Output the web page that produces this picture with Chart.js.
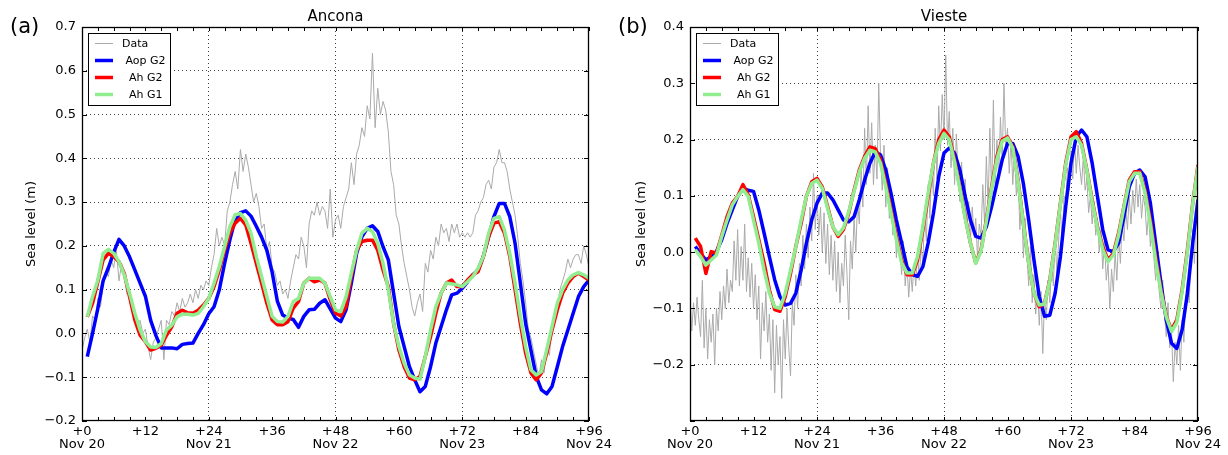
<!DOCTYPE html>
<html>
<head>
<meta charset="utf-8">
<script src="https://cdn.jsdelivr.net/npm/chart.js@4.4.1/dist/chart.umd.min.js"></script>
<style>
  html, body { margin: 0; padding: 0; background: #fff; }
  #wrap { position: relative; width: 1228px; height: 455px; overflow: hidden; }
  .panel { position: absolute; top: 0; height: 455px; }
  #pA { left: 0; width: 620px; }
  #pB { left: 614px; width: 614px; }
</style>
</head>
<body>
<div id="wrap">
  <div class="panel" id="pB"><canvas id="chartB" width="614" height="455"></canvas></div>
  <div class="panel" id="pA"><canvas id="chartA" width="620" height="455"></canvas></div>
</div>
<script>
// hours after Nov 20 00:00
const dayLabels = ['Nov 20', 'Nov 21', 'Nov 22', 'Nov 23', 'Nov 24'];
const seriesNames = ['Data', ' Aop G2', '  Ah G2', '  Ah G1'];
const seriesColors = ['#aaaaaa', '#0000ff', '#ff0000', '#90ee90'];

// model output, hourly from +1 to +96
const modelHours = Array.from({ length: 96 }, (_, i) => i + 1);

const anconaAopG2 = [-0.053, 0.0, 0.057, 0.12, 0.15, 0.185, 0.215, 0.2, 0.175, 0.145, 0.115, 0.085,
  0.03, -0.005, -0.033, -0.033, -0.033, -0.035, -0.025, -0.023, -0.022, 0.0, 0.02, 0.045,
  0.061, 0.1, 0.16, 0.214, 0.26, 0.276, 0.28, 0.268, 0.245, 0.22, 0.19, 0.14,
  0.073, 0.042, 0.035, 0.032, 0.014, 0.039, 0.054, 0.055, 0.069, 0.077, 0.056, 0.035,
  0.027, 0.054, 0.115, 0.183, 0.221, 0.24, 0.246, 0.233, 0.198, 0.168, 0.092, 0.016,
  -0.03, -0.076, -0.106, -0.133, -0.121, -0.076, -0.022, 0.016, 0.054, 0.088, 0.092, 0.103,
  0.118, 0.134, 0.145, 0.176, 0.221, 0.267, 0.297, 0.297, 0.267, 0.206, 0.115, 0.023,
  -0.038, -0.098, -0.129, -0.138, -0.121, -0.076, -0.03, 0.008, 0.046, 0.084, 0.107, 0.122];
const anconaAhG2 = [0.038, 0.069, 0.118, 0.168, 0.183, 0.176, 0.164, 0.137, 0.084, 0.031, -0.004, -0.019,
  -0.038, -0.034, -0.027, -0.004, 0.015, 0.046, 0.053, 0.047, 0.046, 0.053, 0.065, 0.08,
  0.107, 0.145, 0.19, 0.229, 0.252, 0.263, 0.248, 0.206, 0.16, 0.115, 0.069, 0.031,
  0.02, 0.02, 0.027, 0.058, 0.073, 0.115, 0.126, 0.118, 0.122, 0.115, 0.077, 0.046,
  0.04, 0.061, 0.13, 0.19, 0.21, 0.213, 0.213, 0.19, 0.145, 0.107, 0.023, -0.038,
  -0.076, -0.102, -0.106, -0.098, -0.053, -0.007, 0.046, 0.092, 0.115, 0.122, 0.107, 0.107,
  0.122, 0.134, 0.141, 0.176, 0.221, 0.252, 0.255, 0.229, 0.176, 0.1, 0.023, -0.045,
  -0.09, -0.106, -0.09, -0.045, 0.008, 0.054, 0.092, 0.115, 0.13, 0.138, 0.13, 0.122];
const anconaAhG1 = [0.038, 0.084, 0.122, 0.183, 0.192, 0.183, 0.164, 0.134, 0.092, 0.046, 0.008, -0.019,
  -0.031, -0.032, -0.023, 0.008, 0.019, 0.038, 0.044, 0.044, 0.042, 0.046, 0.061, 0.08,
  0.115, 0.153, 0.198, 0.244, 0.271, 0.274, 0.259, 0.229, 0.176, 0.13, 0.084, 0.039,
  0.027, 0.026, 0.039, 0.073, 0.08, 0.115, 0.126, 0.126, 0.126, 0.115, 0.084, 0.054,
  0.05, 0.084, 0.138, 0.19, 0.229, 0.24, 0.233, 0.206, 0.16, 0.1, 0.023, -0.03,
  -0.068, -0.095, -0.102, -0.105, -0.053, 0.008, 0.061, 0.092, 0.115, 0.113, 0.111, 0.107,
  0.118, 0.13, 0.149, 0.176, 0.229, 0.263, 0.267, 0.236, 0.183, 0.115, 0.039, -0.03,
  -0.083, -0.095, -0.087, -0.037, 0.016, 0.069, 0.1, 0.122, 0.134, 0.139, 0.134, 0.126];

// tide gauge, every 30 min from +0 to +96
const anconaDataStep = 0.5;
const anconaData = [-0.04, -0.01, 0.01, -0.02, 0.04, 0.03, 0.08, 0.06, 0.11, 0.14, 0.13, 0.17,
  0.15, 0.19, 0.12, 0.16, 0.13, 0.09, 0.10, 0.06, 0.05, 0.02, 0.03, 0.00, 0.01, -0.03,
  -0.06, -0.02, -0.01, 0.01, 0.03, -0.06, 0.03, 0.02, 0.05, 0.04, 0.07, 0.05, 0.08, 0.06,
  0.07, 0.09, 0.07, 0.10, 0.08, 0.11, 0.10, 0.12, 0.11, 0.15, 0.18, 0.24, 0.20, 0.22,
  0.20, 0.28, 0.30, 0.34, 0.37, 0.33, 0.42, 0.37, 0.41, 0.38, 0.34, 0.30, 0.32, 0.29,
  0.24, 0.25, 0.19, 0.21, 0.15, 0.14, 0.11, 0.12, 0.09, 0.10, 0.08, 0.12, 0.15, 0.18,
  0.17, 0.22, 0.20, 0.15, 0.25, 0.28, 0.27, 0.30, 0.27, 0.29, 0.28, 0.24, 0.33, 0.22,
  0.26, 0.27, 0.24, 0.29, 0.31, 0.33, 0.39, 0.34, 0.41, 0.43, 0.47, 0.45, 0.52, 0.49,
  0.64, 0.47, 0.56, 0.50, 0.53, 0.51, 0.46, 0.37, 0.34, 0.27, 0.25, 0.20, 0.16, 0.13,
  0.10, 0.06, 0.04, 0.07, 0.09, 0.05, 0.16, 0.14, 0.19, 0.17, 0.22, 0.20, 0.25, 0.23,
  0.24, 0.21, 0.25, 0.23, 0.25, 0.22, 0.23, 0.22, 0.23, 0.22, 0.23, 0.27, 0.28, 0.30,
  0.31, 0.34, 0.35, 0.33, 0.38, 0.39, 0.42, 0.39, 0.39, 0.37, 0.33, 0.30, 0.27, 0.22,
  0.16, 0.12, 0.07, 0.01, -0.01, -0.04, -0.07, -0.10, -0.06, -0.09, -0.03, -0.05, 0.01, 0.04,
  0.06, 0.10, 0.12, 0.14, 0.17, 0.15, 0.17, 0.18, 0.18, 0.16, 0.20, 0.18, 0.15];

const viesteAopG2 = [0.01, -0.002, -0.014, -0.008, 0.001, 0.022, 0.051, 0.075, 0.099, 0.113, 0.11, 0.108,
  0.075, 0.034, -0.008, -0.049, -0.079, -0.094, -0.091, -0.073, -0.032, 0.016, 0.057, 0.087,
  0.105, 0.105, 0.093, 0.075, 0.057, 0.054, 0.063, 0.093, 0.128, 0.158, 0.178, 0.173,
  0.146, 0.104, 0.057, 0.016, -0.026, -0.04, -0.043, -0.026, 0.016, 0.069, 0.134, 0.176,
  0.185, 0.176, 0.146, 0.099, 0.057, 0.028, 0.025, 0.045, 0.081, 0.122, 0.164, 0.193,
  0.193, 0.17, 0.122, 0.057, -0.014, -0.079, -0.114, -0.112, -0.073, -0.008, 0.081, 0.158,
  0.205, 0.217, 0.205, 0.158, 0.099, 0.04, 0.004, 0.001, 0.016, 0.063, 0.116, 0.14,
  0.146, 0.134, 0.087, 0.016, -0.055, -0.12, -0.162, -0.171, -0.138, -0.073, 0.016, 0.093];
const viesteAhG2 = [0.025, 0.01, -0.038, 0.001, -0.002, 0.03, 0.063, 0.087, 0.099, 0.12, 0.102, 0.063,
  0.022, -0.019, -0.067, -0.102, -0.105, -0.079, -0.038, 0.01, 0.051, 0.099, 0.125, 0.131,
  0.116, 0.081, 0.045, 0.028, 0.04, 0.069, 0.11, 0.146, 0.17, 0.187, 0.184, 0.164,
  0.122, 0.075, 0.028, -0.014, -0.04, -0.04, -0.014, 0.04, 0.099, 0.158, 0.2, 0.217,
  0.205, 0.164, 0.116, 0.063, 0.016, -0.019, 0.004, 0.057, 0.116, 0.17, 0.2, 0.205,
  0.187, 0.128, 0.051, -0.019, -0.073, -0.097, -0.091, -0.049, 0.016, 0.087, 0.158, 0.205,
  0.214, 0.193, 0.146, 0.093, 0.045, 0.01, -0.014, -0.002, 0.034, 0.081, 0.128, 0.143,
  0.143, 0.11, 0.057, -0.008, -0.067, -0.114, -0.138, -0.12, -0.067, 0.004, 0.087, 0.155];
const viesteAhG1 = [0.004, -0.008, -0.023, -0.014, -0.005, 0.028, 0.057, 0.084, 0.099, 0.111, 0.099, 0.057,
  0.016, -0.032, -0.073, -0.097, -0.1, -0.073, -0.032, 0.01, 0.057, 0.099, 0.122, 0.128,
  0.113, 0.078, 0.045, 0.031, 0.043, 0.072, 0.108, 0.143, 0.167, 0.181, 0.178, 0.158,
  0.116, 0.069, 0.022, -0.019, -0.037, -0.037, -0.008, 0.045, 0.105, 0.158, 0.193, 0.211,
  0.2, 0.16, 0.113, 0.06, 0.016, -0.02, 0.002, 0.055, 0.113, 0.165, 0.197, 0.203,
  0.185, 0.125, 0.05, -0.02, -0.073, -0.094, -0.092, -0.05, 0.014, 0.085, 0.155, 0.2,
  0.205, 0.19, 0.145, 0.09, 0.043, 0.005, -0.017, -0.005, 0.03, 0.08, 0.125, 0.14,
  0.14, 0.105, 0.05, -0.015, -0.07, -0.115, -0.141, -0.125, -0.07, 0.0, 0.085, 0.152];

// tide gauge, every 20 min from +0 to +96
const viesteDataStep = 1 / 3;
const viesteData = [-0.08, -0.14, -0.09, -0.13, -0.08, -0.12, -0.15, -0.05, -0.17, -0.10, -0.19, -0.12,
  -0.16, -0.11, -0.20, -0.10, -0.14, -0.07, -0.12, -0.06, -0.10, -0.03, -0.09, -0.05,
  -0.07, 0.02, -0.05, 0.04, -0.06, 0.01, -0.05, 0.05, -0.07, -0.01, -0.08, -0.02,
  -0.10, -0.04, -0.12, -0.06, -0.19, -0.09, -0.14, -0.07, -0.16, -0.11, -0.21, -0.12,
  -0.25, -0.13, -0.20, -0.15, -0.26, -0.12, -0.19, -0.10, -0.17, -0.22, -0.09, -0.13,
  -0.04, -0.10, -0.02, -0.06, 0.03, -0.03, 0.05, -0.01, 0.08, 0.02, 0.14, 0.04,
  0.10, 0.03, 0.08, 0.00, 0.07, -0.02, 0.05, -0.04, 0.03, -0.05, 0.02, -0.07,
  0.00, -0.09, -0.02, -0.06, 0.03, -0.04, -0.12, 0.02, -0.03, 0.06, 0.00, 0.09,
  0.05, 0.15, 0.08, 0.22, 0.12, 0.26, 0.14, 0.23, 0.12, 0.19, 0.13, 0.30,
  0.17, 0.11, 0.19, 0.08, 0.15, 0.06, 0.11, 0.03, 0.07, -0.01, 0.05, 0.00,
  -0.04, 0.02, -0.06, -0.02, -0.08, -0.03, -0.07, -0.02, -0.06, 0.00, -0.05, 0.01,
  -0.02, 0.07, 0.02, 0.12, 0.06, 0.15, 0.10, 0.22, 0.13, 0.26, 0.18, 0.28,
  0.20, 0.35, 0.19, 0.25, 0.15, 0.22, 0.12, 0.21, 0.14, 0.09, 0.16, 0.07,
  0.13, 0.04, 0.09, 0.02, 0.08, 0.03, 0.06, -0.01, 0.05, 0.03, 0.12, 0.05,
  0.17, 0.08, 0.22, 0.10, 0.27, 0.12, 0.20, 0.13, 0.24, 0.16, 0.30, 0.18,
  0.22, 0.14, 0.20, 0.12, 0.18, 0.10, 0.14, 0.04, 0.09, -0.01, 0.06, 0.00,
  -0.06, 0.01, -0.09, -0.04, -0.11, -0.06, -0.13, -0.07, -0.18, -0.08, -0.12, -0.05,
  -0.09, -0.02, -0.06, 0.03, -0.04, 0.02, 0.08, 0.01, 0.10, 0.09, 0.15, 0.11,
  0.18, 0.13, 0.20, 0.14, 0.19, 0.15, 0.12, 0.17, 0.11, 0.13, 0.07, 0.10,
  0.05, 0.09, 0.03, 0.06, 0.00, 0.04, -0.03, 0.02, -0.05, -0.02, -0.10, -0.03,
  -0.07, 0.00, -0.05, 0.03, -0.02, 0.05, 0.02, 0.08, 0.04, 0.10, 0.05, 0.11,
  0.07, 0.13, 0.08, 0.12, 0.06, 0.10, 0.08, 0.03, 0.07, 0.01, 0.05, -0.01,
  -0.05, 0.00, -0.07, -0.10, -0.05, -0.11, -0.15, -0.09, -0.17, -0.14, -0.23, -0.16,
  -0.20, -0.13, -0.21, -0.12, -0.16, -0.08, -0.05, -0.09, -0.01, 0.04, -0.02, 0.08,
  0.12];

const FONT = '"DejaVu Sans", sans-serif';

function fmtTick(v) {
  if (Math.abs(v) < 1e-9) v = 0;
  return v.toFixed(1).replace('-', '\u2212');
}

function toPoints(xs, ys) {
  return ys.map((y, i) => ({ x: xs[i], y: y }));
}

function dataPoints(step, ys) {
  return ys.map((y, i) => ({ x: i * step, y: y }));
}

// frame and inward ticks, matplotlib style
const framePlugin = {
  id: 'frame',
  afterDatasetsDraw(chart) {
    const { ctx, chartArea: a, scales: { x, y } } = chart;
    ctx.save();
    ctx.strokeStyle = '#000';
    ctx.lineWidth = 1;
    ctx.beginPath();
    for (let h = 0; h <= 96; h += 3) {
      const px = Math.round(x.getPixelForValue(h)) + 0.5;
      ctx.moveTo(px, a.top); ctx.lineTo(px, a.top + 4);
      ctx.moveTo(px, a.bottom); ctx.lineTo(px, a.bottom - 4);
    }
    y.ticks.forEach(t => {
      const py = Math.round(y.getPixelForValue(t.value)) + 0.5;
      ctx.moveTo(a.left, py); ctx.lineTo(a.left + 5, py);
      ctx.moveTo(a.right, py); ctx.lineTo(a.right - 5, py);
    });
    ctx.stroke();
    ctx.lineWidth = 1.3;
    ctx.strokeRect(Math.round(a.left) + 0.5, Math.round(a.top) + 0.5,
      Math.round(a.width) - 1, Math.round(a.height) - 1);
    ctx.restore();
  }
};

// boxed legend inside top-left corner + panel letter and title
const decorPlugin = {
  id: 'decor',
  afterDraw(chart, args, opts) {
    const { ctx, chartArea: a } = chart;
    ctx.save();
    const x0 = Math.round(a.left) + 6, y0 = Math.round(a.top) + 6;
    ctx.fillStyle = '#fff';
    ctx.fillRect(x0, y0, 82, 72);
    ctx.strokeStyle = '#000';
    ctx.lineWidth = 1;
    ctx.strokeRect(x0 + 0.5, y0 + 0.5, 82, 72);
    ctx.font = '11px ' + FONT;
    ctx.textBaseline = 'middle';
    chart.data.datasets.forEach((ds, i) => {
      const yy = y0 + 10.5 + i * 17;
      ctx.strokeStyle = ds.borderColor;
      ctx.lineWidth = ds.borderWidth;
      ctx.beginPath();
      ctx.moveTo(x0 + 7, yy);
      ctx.lineTo(x0 + 25, yy);
      ctx.stroke();
      ctx.fillStyle = '#000';
      ctx.fillText(ds.label, x0 + 34, yy + 1);
    });
    ctx.fillStyle = '#000';
    ctx.textBaseline = 'alphabetic';
    ctx.font = '15px ' + FONT;
    ctx.textAlign = 'center';
    ctx.fillText(opts.title, (a.left + a.right) / 2, a.top - 6);
    ctx.font = '21px ' + FONT;
    ctx.textAlign = 'left';
    ctx.fillText(opts.panel, opts.panelX, 33);
    ctx.restore();
  }
};

function makeChart(canvasId, cfg) {
  const datasets = [
    { label: seriesNames[0], data: dataPoints(cfg.dataStep, cfg.data), borderColor: seriesColors[0], borderWidth: 1, order: 4 },
    { label: seriesNames[1], data: toPoints(modelHours, cfg.aop), borderColor: seriesColors[1], borderWidth: 3.5, order: 3 },
    { label: seriesNames[2], data: toPoints(modelHours, cfg.ahG2), borderColor: seriesColors[2], borderWidth: 3.5, order: 2 },
    { label: seriesNames[3], data: toPoints(modelHours, cfg.ahG1), borderColor: seriesColors[3], borderWidth: 3.5, order: 1 }
  ];
  return new Chart(document.getElementById(canvasId), {
    type: 'line',
    data: { datasets: datasets },
    options: {
      responsive: false,
      animation: false,
      events: [],
      elements: { point: { radius: 0 }, line: { tension: 0, borderJoinStyle: 'round', borderCapStyle: 'butt' } },
      layout: { padding: { left: cfg.padLeft, top: 27, right: cfg.padRight, bottom: 0 } },
      plugins: {
        legend: { display: false },
        tooltip: { enabled: false },
        decor: { title: cfg.title, panel: cfg.panel, panelX: cfg.panelX }
      },
      scales: {
        x: {
          type: 'linear', min: 0, max: 96,
          afterFit: s => { s.height = 34; },
          ticks: {
            stepSize: 12, padding: 4, maxRotation: 0, autoSkip: false, color: '#000',
            font: { family: FONT, size: 13, lineHeight: 1.0 },
            callback: v => (v % 24 === 0 ? ['+' + v, dayLabels[v / 24]] : '+' + v)
          },
          grid: {
            drawTicks: false,
            color: c => (c.tick && c.tick.value % 24 === 0 && c.tick.value > 0 && c.tick.value < 96) ? 'rgba(0,0,0,0.75)' : 'rgba(0,0,0,0)',
            lineWidth: 1
          },
          border: { display: false, dash: [1, 3] }
        },
        y: {
          min: cfg.yMin, max: cfg.yMax,
          afterFit: s => { s.width = cfg.yWidth; },
          ticks: {
            stepSize: 0.1, padding: 6, color: '#000',
            font: { family: FONT, size: 13 },
            callback: v => (cfg.hideBottom && Math.abs(v - cfg.yMin) < 1e-9) ? '' : fmtTick(v)
          },
          title: { display: true, text: 'Sea level (m)', color: '#000', font: { family: FONT, size: 13 }, padding: { top: 4, bottom: 4 } },
          grid: {
            drawTicks: false,
            color: c => (c.tick && c.tick.value > cfg.yMin + 1e-9 && c.tick.value < cfg.yMax - 1e-9) ? 'rgba(0,0,0,0.75)' : 'rgba(0,0,0,0)',
            lineWidth: 1
          },
          border: { display: false, dash: [1, 3] }
        }
      }
    },
    plugins: [framePlugin, decorPlugin]
  });
}

makeChart('chartA', {
  title: 'Ancona', panel: '(a)', panelX: 10,
  data: anconaData, dataStep: anconaDataStep,
  aop: anconaAopG2, ahG2: anconaAhG2, ahG1: anconaAhG1,
  yMin: -0.2, yMax: 0.7, hideBottom: false,
  padLeft: 20, yWidth: 62, padRight: 31
});

makeChart('chartB', {
  title: 'Vieste', panel: '(b)', panelX: 4,
  data: viesteData, dataStep: viesteDataStep,
  aop: viesteAopG2, ahG2: viesteAhG2, ahG1: viesteAhG1,
  yMin: -0.3, yMax: 0.4, hideBottom: true,
  padLeft: 16, yWidth: 60, padRight: 30
});
</script>
</body>
</html>
